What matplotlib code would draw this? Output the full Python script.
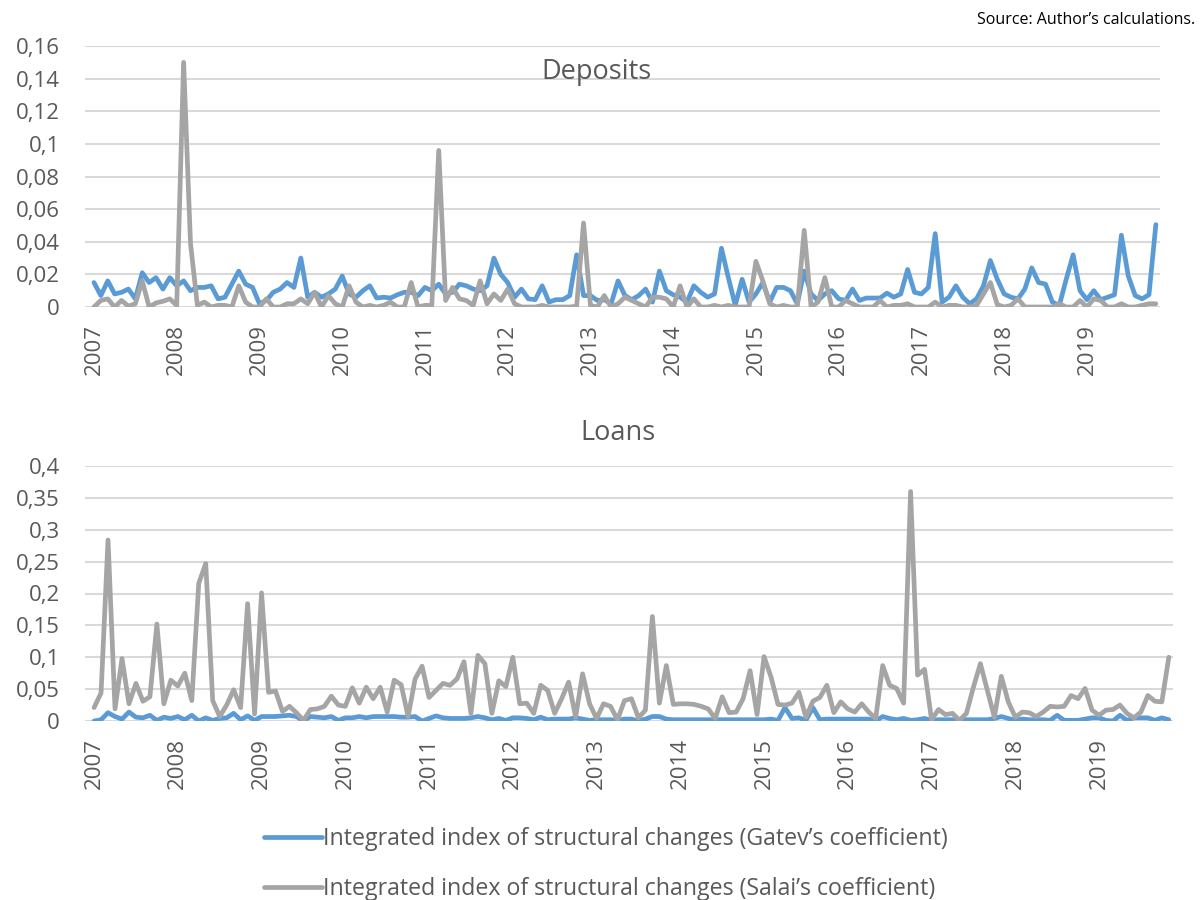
import matplotlib
matplotlib.use("Agg")
import matplotlib.pyplot as plt
from matplotlib.ticker import FuncFormatter, MultipleLocator

plt.rcParams['font.family'] = ['Open Sans', 'DejaVu Sans']

years = [str(y) for y in range(2007, 2020)]

dep_gatev = [
    0.015, 0.007, 0.016, 0.008, 0.009, 0.011, 0.005, 0.021, 0.015, 0.018,
    0.011, 0.018, 0.013, 0.016, 0.010, 0.012, 0.012, 0.013, 0.005, 0.006,
    0.014, 0.022, 0.014, 0.012, 0.002, 0.004, 0.009, 0.011, 0.015, 0.012,
    0.030, 0.006, 0.009, 0.006, 0.008, 0.011, 0.019, 0.008, 0.006, 0.010,
    0.013, 0.0055, 0.006, 0.0055, 0.0075, 0.009, 0.009, 0.007, 0.012, 0.010,
    0.014, 0.008, 0.009, 0.014, 0.013, 0.011, 0.010, 0.013, 0.030, 0.020,
    0.015, 0.006, 0.011, 0.005, 0.0045, 0.013, 0.003, 0.0045, 0.0045, 0.007,
    0.032, 0.007, 0.007, 0.004, 0.0045, 0.002, 0.016, 0.007, 0.0045, 0.007,
    0.011, 0.003, 0.022, 0.010, 0.0075, 0.006, 0.003, 0.013, 0.009, 0.006,
    0.008, 0.036, 0.018, 0.001, 0.017, 0.003, 0.008, 0.015, 0.003, 0.012,
    0.012, 0.010, 0.002, 0.022, 0.008, 0.004, 0.008, 0.010, 0.005, 0.004,
    0.011, 0.004, 0.0055, 0.0055, 0.0055, 0.0085, 0.006, 0.008, 0.023, 0.009,
    0.008, 0.012, 0.045, 0.003, 0.006, 0.013, 0.006, 0.002, 0.005, 0.013,
    0.0285, 0.017, 0.008, 0.006, 0.005, 0.011, 0.024, 0.015, 0.014, 0.003,
    0.001, 0.017, 0.032, 0.010, 0.0045, 0.010, 0.0045, 0.006, 0.0075, 0.044,
    0.019, 0.007, 0.005, 0.0075, 0.0505,
]

dep_salai = [
    0.0, 0.004, 0.005, 0.0, 0.004, 0.0005, 0.002, 0.016, 0.0, 0.0025,
    0.0035, 0.005, 0.001, 0.150, 0.039, 0.001, 0.003, 0.0, 0.001, 0.001,
    0.0, 0.013, 0.003, 0.0, 0.0, 0.005, 0.0, 0.0, 0.002, 0.002,
    0.005, 0.002, 0.009, 0.0, 0.007, 0.002, 0.0, 0.013, 0.003, 0.0,
    0.001, 0.0, 0.001, 0.003, 0.0, 0.0, 0.015, 0.0, 0.001, 0.001,
    0.096, 0.004, 0.012, 0.005, 0.004, 0.001, 0.016, 0.002, 0.008, 0.004,
    0.011, 0.002, 0.0, 0.0, 0.0, 0.001, 0.0, 0.0, 0.0, 0.0,
    0.0005, 0.0515, 0.001, 0.0, 0.007, 0.0, 0.002, 0.006, 0.004, 0.002,
    0.0, 0.006, 0.006, 0.005, 0.0, 0.013, 0.0, 0.005, 0.0, 0.0,
    0.001, 0.0, 0.001, 0.0, 0.0, 0.0, 0.028, 0.016, 0.002, 0.0,
    0.001, 0.0, 0.0, 0.047, 0.0, 0.003, 0.018, 0.0, 0.0, 0.004,
    0.002, 0.0, 0.0, 0.0, 0.004, 0.0, 0.001, 0.001, 0.002, 0.0,
    0.0, 0.0, 0.003, 0.0, 0.001, 0.001, 0.0, 0.0, 0.001, 0.008,
    0.015, 0.0015, 0.0, 0.001, 0.005, 0.0, 0.0, 0.0, 0.0, 0.0,
    0.002, 0.0, 0.0, 0.004, 0.0, 0.005, 0.004, 0.0, 0.0, 0.002,
    0.0, 0.0, 0.001, 0.002, 0.002,
]

loan_gatev = [
    0.0, 0.002, 0.013, 0.007, 0.003, 0.014, 0.006, 0.005, 0.009, 0.001,
    0.006, 0.004, 0.007, 0.002, 0.009, 0.0, 0.005, 0.001, 0.004, 0.005,
    0.012, 0.002, 0.008, 0.001, 0.007, 0.007, 0.007, 0.008, 0.009, 0.007,
    0.0, 0.007, 0.006, 0.005, 0.007, 0.001, 0.005, 0.005, 0.007, 0.005,
    0.007, 0.007, 0.007, 0.007, 0.006, 0.006, 0.007, 0.0, 0.004, 0.008,
    0.005, 0.004, 0.004, 0.004, 0.005, 0.007, 0.005, 0.002, 0.004, 0.001,
    0.005, 0.005, 0.004, 0.002, 0.006, 0.002, 0.003, 0.003, 0.003, 0.005,
    0.003, 0.001, 0.002, 0.002, 0.002, 0.001, 0.003, 0.003, 0.0, 0.003,
    0.007, 0.007, 0.003, 0.002, 0.002, 0.002, 0.002, 0.002, 0.002, 0.002,
    0.002, 0.002, 0.002, 0.002, 0.002, 0.002, 0.002, 0.003, 0.001, 0.021,
    0.004, 0.005, 0.001, 0.021, 0.002, 0.003, 0.003, 0.003, 0.003, 0.003,
    0.003, 0.003, 0.0, 0.007, 0.004, 0.002, 0.004, 0.001, 0.002, 0.004,
    0.001, 0.002, 0.002, 0.002, 0.002, 0.002, 0.002, 0.002, 0.002, 0.004,
    0.007, 0.004, 0.001, 0.003, 0.002, 0.002, 0.002, 0.001, 0.009, 0.001,
    0.001, 0.001, 0.003, 0.005, 0.005, 0.001, 0.0, 0.009, 0.001, 0.005,
    0.005, 0.005, 0.001, 0.005, 0.002,
]

loan_salai = [
    0.021, 0.044, 0.284, 0.019, 0.098, 0.027, 0.059, 0.031, 0.038, 0.152,
    0.027, 0.064, 0.055, 0.075, 0.032, 0.216, 0.247, 0.032, 0.007, 0.025,
    0.049, 0.021, 0.184, 0.011, 0.201, 0.045, 0.047, 0.015, 0.023, 0.013,
    0.001, 0.018, 0.019, 0.023, 0.039, 0.025, 0.023, 0.052, 0.028, 0.053,
    0.035, 0.053, 0.014, 0.064, 0.057, 0.007, 0.066, 0.086, 0.037, 0.048,
    0.059, 0.056, 0.066, 0.093, 0.012, 0.103, 0.090, 0.012, 0.063, 0.054,
    0.100, 0.027, 0.028, 0.012, 0.056, 0.048, 0.012, 0.035, 0.061, 0.006,
    0.074, 0.027, 0.004, 0.027, 0.023, 0.002, 0.032, 0.035, 0.005, 0.017,
    0.164, 0.028, 0.087, 0.026, 0.027, 0.027, 0.026, 0.023, 0.019, 0.004,
    0.038, 0.013, 0.014, 0.035, 0.079, 0.010, 0.101, 0.069, 0.026, 0.025,
    0.028, 0.045, 0.006, 0.031, 0.037, 0.056, 0.013, 0.030, 0.019, 0.014,
    0.027, 0.014, 0.004, 0.087, 0.056, 0.051, 0.028, 0.360, 0.072, 0.081,
    0.002, 0.018, 0.010, 0.012, 0.001, 0.012, 0.053, 0.090, 0.048, 0.006,
    0.070, 0.030, 0.006, 0.014, 0.013, 0.007, 0.014, 0.023, 0.022, 0.023,
    0.040, 0.035, 0.051, 0.017, 0.009, 0.017, 0.018, 0.025, 0.012, 0.005,
    0.014, 0.040, 0.031, 0.030, 0.100,
]

series_names = [
    "Integrated index of structural changes (Gatev\u2019s coefficient)",
    "Integrated index of structural changes (Salai\u2019s coefficient)",
]
BLUE = "#5B9BD5"
GREY = "#A5A5A5"
TXT = "#595959"
GRID = "#D9D9D9"


def fmt(v, pos):
    s = ("%.3f" % v).rstrip("0").rstrip(".")
    return s.replace(".", ",")


fig = plt.figure(figsize=(12, 9), dpi=100)

def setup(ax, ymax, step, n):
    ax.set_ylim(0, ymax)
    ax.set_xlim(-1.3, n - 0.4)
    ax.yaxis.set_major_locator(MultipleLocator(step))
    ax.yaxis.set_major_formatter(FuncFormatter(fmt))
    ax.grid(axis="y", color=GRID, linewidth=1.5)
    ax.set_axisbelow(True)
    for sp in ax.spines.values():
        sp.set_visible(False)
    ax.set_xticks(range(0, n, 12))
    ax.set_xticklabels(years, rotation=90)
    ax.tick_params(axis="both", length=0, labelsize=16, labelcolor=TXT)
    ax.tick_params(axis="y", pad=18)
    ax.tick_params(axis="x", pad=12)

n = len(dep_gatev)
x = list(range(n))

ax1 = fig.add_axes([85 / 1200, 1 - 307 / 900, 1075 / 1200, 261 / 900])
ax1.plot(x, dep_gatev, color=BLUE, lw=3.4, solid_joinstyle="round", solid_capstyle="round")
ax1.plot(x, dep_salai, color=GREY, lw=3.4, solid_joinstyle="round", solid_capstyle="round")
setup(ax1, 0.16, 0.02, n)
fig.text(597 / 1200, 1 - 72 / 900, "Deposits", ha="center", va="center",
         fontsize=19.5, color=TXT)

ax2 = fig.add_axes([85 / 1200, 1 - 721 / 900, 1088 / 1200, 255 / 900])
l1, = ax2.plot(x, loan_gatev, color=BLUE, lw=3.4, solid_joinstyle="round", solid_capstyle="round")
l2, = ax2.plot(x, loan_salai, color=GREY, lw=3.4, solid_joinstyle="round", solid_capstyle="round")
setup(ax2, 0.4, 0.05, n)
fig.text(618 / 1200, 1 - 433 / 900, "Loans", ha="center", va="center", fontsize=19.5, color=TXT)

fig.legend([l1, l2], series_names, loc="center", bbox_to_anchor=(606 / 1200, 1 - 864 / 900),
           frameon=False, fontsize=16.7, labelcolor=TXT, handlelength=2.5, handletextpad=0.05,
           labelspacing=1.15)

fig.text(1195 / 1200, 1 - 20 / 900, "Source: Author\u2019s calculations.", ha="right", va="center",
         fontsize=11.5, color="black")

fig.savefig("out.png", dpi=100)
